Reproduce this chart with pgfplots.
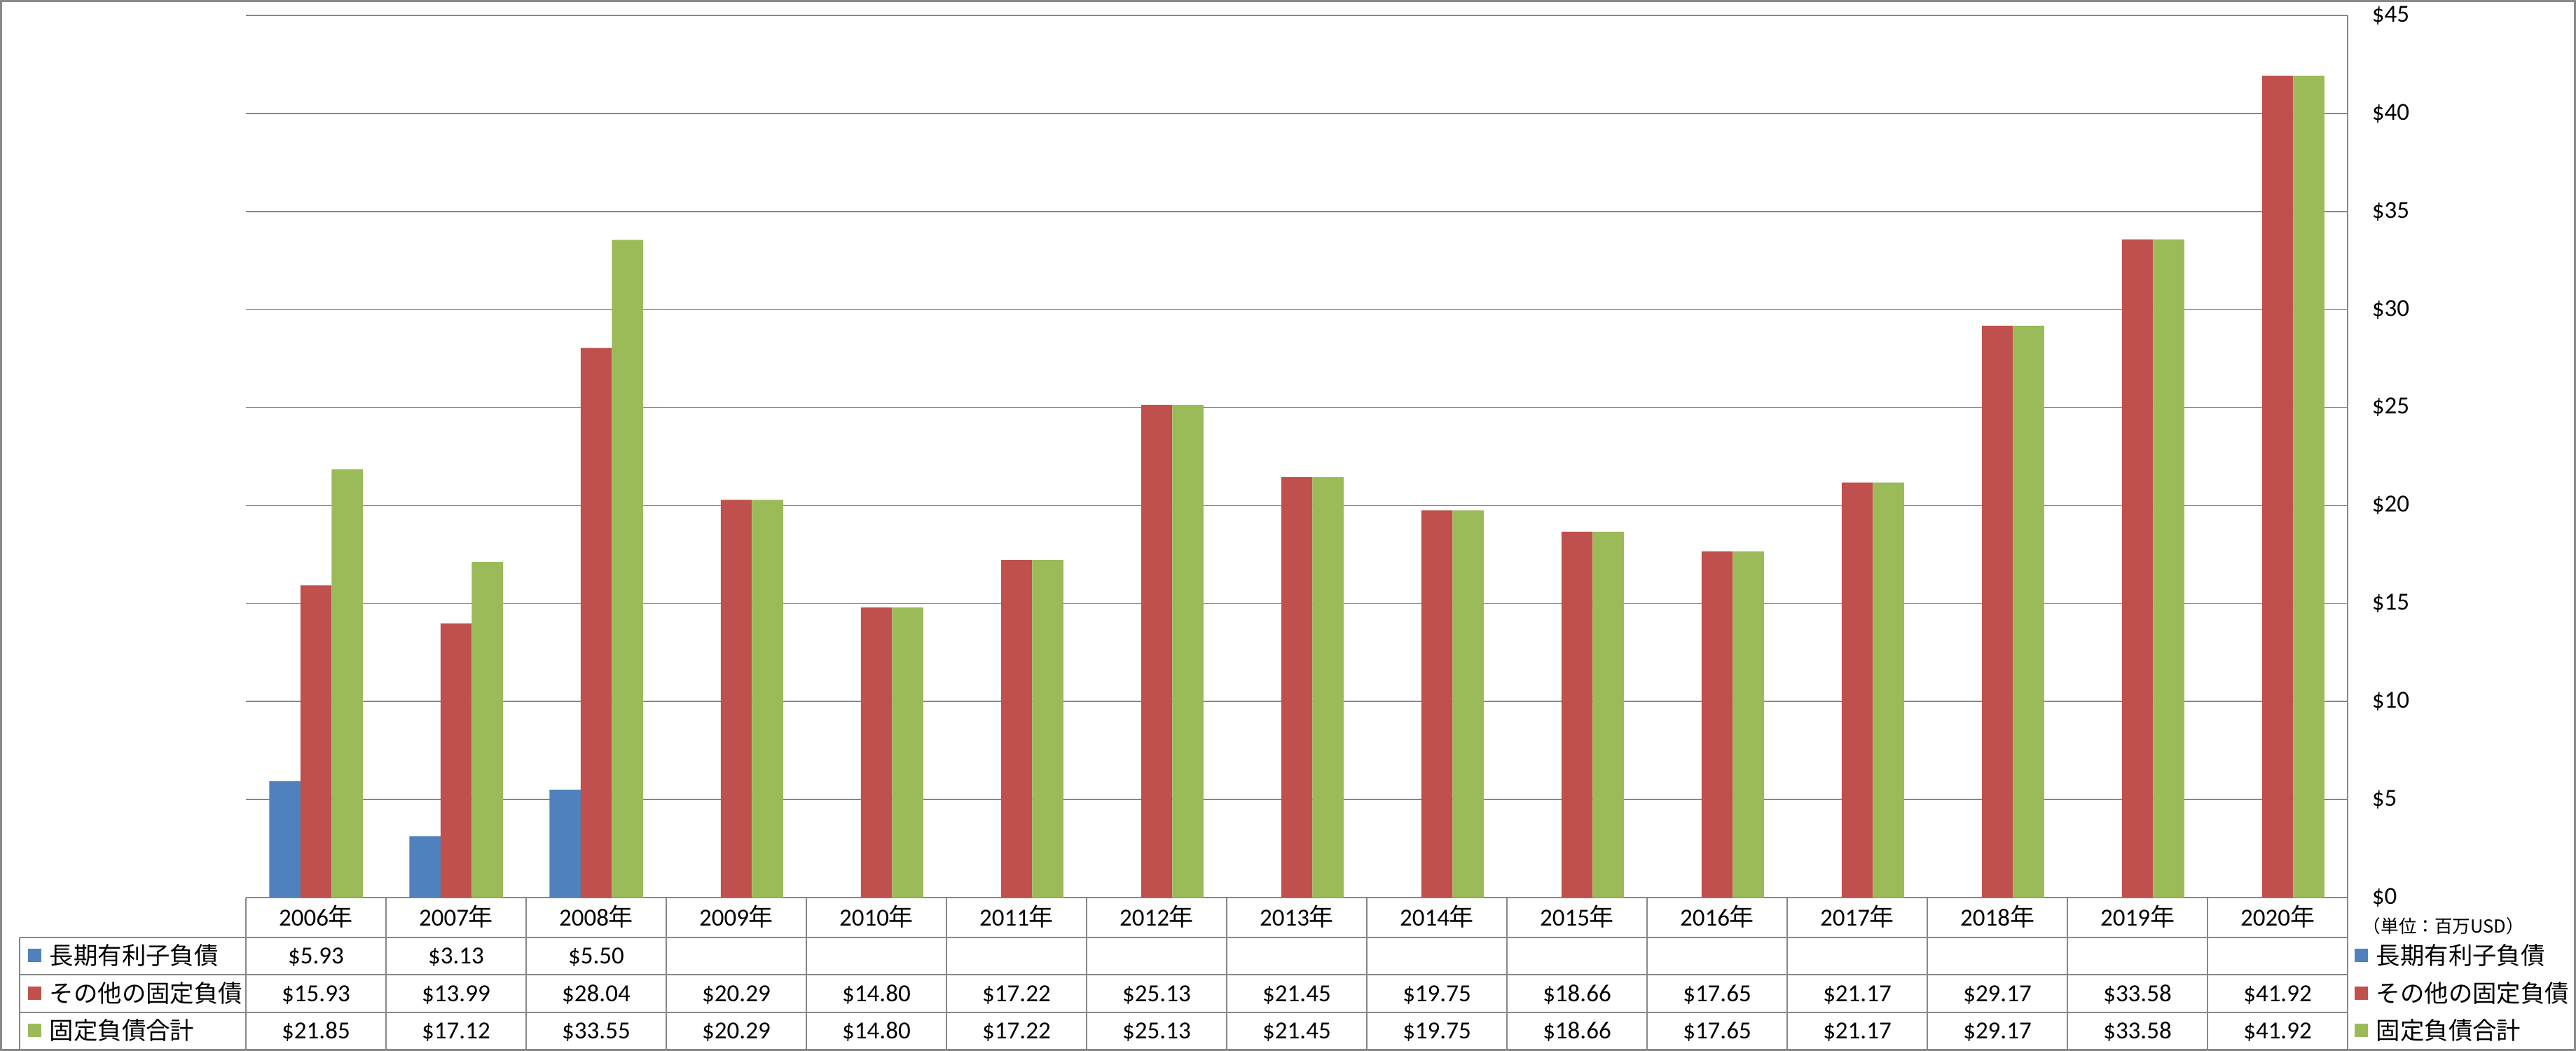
\documentclass[border=0pt]{standalone}
\usepackage{pgfplots}
\pgfplotsset{compat=1.18}
\usepackage{pgfplotstable}
\usepackage{fontspec}
\setmainfont{Carlito}
\newfontfamily\cjk{Noto Sans CJK JP}
\definecolor{sA}{HTML}{4F81BD}
\definecolor{sB}{HTML}{C0504D}
\definecolor{sC}{HTML}{9BBB59}
\definecolor{gridc}{HTML}{888888}

\pgfplotstableread{
x a
0 5.93
1 3.13
2 5.50
}\dataA
\pgfplotstableread{
x b c
0 15.93 21.85
1 13.99 17.12
2 28.04 33.55
3 20.29 20.29
4 14.80 14.80
5 17.22 17.22
6 25.13 25.13
7 21.45 21.45
8 19.75 19.75
9 18.66 18.66
10 17.65 17.65
11 21.17 21.17
12 29.17 29.17
13 33.58 33.58
14 41.92 41.92
}\dataBC

\begin{document}
\begin{tikzpicture}[font=\fontsize{8.75pt}{10.5pt}\selectfont]
\useasboundingbox (0,0) rectangle (919.25pt,-375pt);
\begin{axis}[
  at={(87.75pt,-320.25pt)}, anchor=south west,
  scale only axis, width=750pt, height=314.75pt,
  xmin=-0.5, xmax=14.5, ymin=0, ymax=45,
  axis y line*=right, axis x line*=bottom,
  axis line style={draw=gridc, line width=0.45pt},
  xtick=\empty,
  ytick={0,5,...,45},
  yticklabels={\$0,\$5,\$10,\$15,\$20,\$25,\$30,\$35,\$40,\$45},
  major tick length=0pt,
  ymajorgrids, grid style={draw=gridc, line width=0.4pt},
  yticklabel style={anchor=west, inner sep=0pt, xshift=8.5pt, font=\fontsize{8.75pt}{10.5pt}\selectfont},
  ybar=0pt, bar width=11.125pt,
  clip=false,
]
\addplot[fill=sA, draw=none] table[x=x,y=a]{\dataA};
\addplot[fill=sB, draw=none] table[x=x,y=b]{\dataBC};
\addplot[fill=sC, draw=none] table[x=x,y=c]{\dataBC};
\end{axis}
\begin{scope}[x=0.25pt,y=-0.25pt]
  % table grid
  \draw[gridc, line width=0.45pt] (28,1338)--(3351,1338) (28,1391)--(3351,1391) (28,1445)--(3351,1445);
  \draw[gridc, line width=0.45pt] (28,1338)--(28,1498);
  \foreach \i in {0,...,15} \draw[gridc, line width=0.45pt] ({351+200*\i},1281)--({351+200*\i},1498);
  % outer frame
  \draw[gridc, line width=0.75pt] (1.5,1.5) rectangle (3675.5,1498.5);
  % header
  \foreach \y [count=\i from 0] in {2006,...,2020}
    \node[anchor=base, inner sep=0pt] at ({451+200*\i},1321) {\y{\cjk 年}};
  % row 1
  \foreach \v [count=\i from 0] in {5.93,3.13,5.50}
    \node[anchor=base, inner sep=0pt] at ({451+200*\i},1375) {\$\v};
  % row 2
  \foreach \v [count=\i from 0] in {15.93,13.99,28.04,20.29,14.80,17.22,25.13,21.45,19.75,18.66,17.65,21.17,29.17,33.58,41.92}
    \node[anchor=base, inner sep=0pt] at ({451+200*\i},1429) {\$\v};
  % row 3
  \foreach \v [count=\i from 0] in {21.85,17.12,33.55,20.29,14.80,17.22,25.13,21.45,19.75,18.66,17.65,21.17,29.17,33.58,41.92}
    \node[anchor=base, inner sep=0pt] at ({451+200*\i},1482) {\$\v};
  % left legend
  \fill[sA] (40,1354) rectangle (59,1373);
  \fill[sB] (40,1408) rectangle (59,1427);
  \fill[sC] (40,1461) rectangle (59,1480);
  \node[anchor=west, inner sep=0pt, font=\cjk\fontsize{8.6pt}{10pt}\selectfont] at (70,1364) {長期有利子負債};
  \node[anchor=west, inner sep=0pt, font=\cjk\fontsize{8.6pt}{10pt}\selectfont] at (70,1418) {その他の固定負債};
  \node[anchor=west, inner sep=0pt, font=\cjk\fontsize{8.6pt}{10pt}\selectfont] at (70,1471) {固定負債合計};
  % right legend
  \fill[sA] (3361,1354) rectangle (3380,1373);
  \fill[sB] (3361,1408) rectangle (3380,1427);
  \fill[sC] (3361,1461) rectangle (3380,1480);
  \node[anchor=west, inner sep=0pt, font=\cjk\fontsize{8.6pt}{10pt}\selectfont] at (3391,1364) {長期有利子負債};
  \node[anchor=west, inner sep=0pt, font=\cjk\fontsize{8.6pt}{10pt}\selectfont] at (3391,1418) {その他の固定負債};
  \node[anchor=west, inner sep=0pt, font=\cjk\fontsize{8.6pt}{10pt}\selectfont] at (3391,1471) {固定負債合計};
  % unit
  \node[anchor=west, inner sep=0pt, font=\cjk\fontsize{6.4pt}{8pt}\selectfont] at (3372,1322) {（単位：百万USD）};
\end{scope}
\end{tikzpicture}
\end{document}
